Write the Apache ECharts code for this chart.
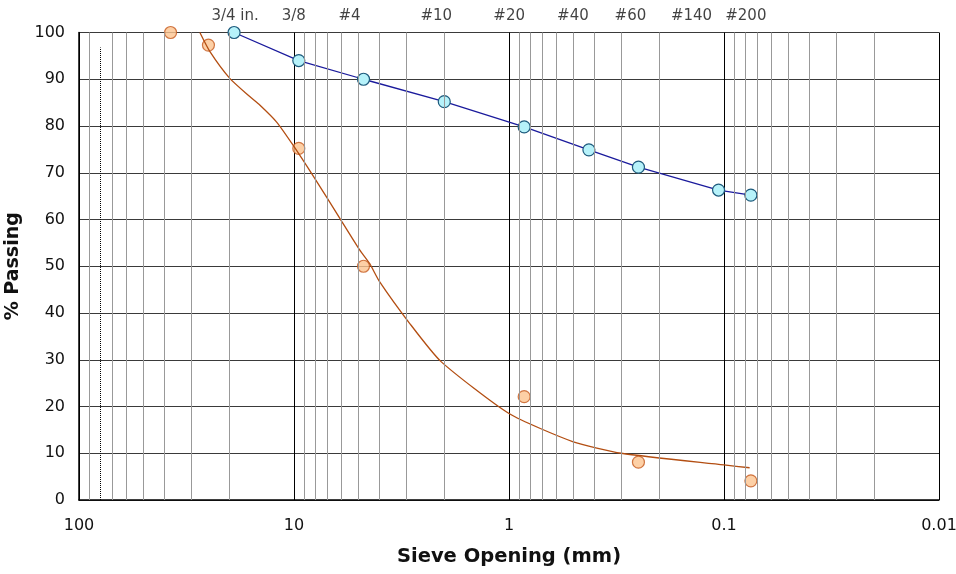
<!DOCTYPE html>
<html>
<head>
<meta charset="utf-8">
<script src="https://cdn.jsdelivr.net/npm/echarts@6/dist/echarts.min.js"></script>
<style>html,body{margin:0;padding:0;background:#fff}#c{width:956px;height:574px}</style>
</head>
<body>
<div id="c"></div>
<script>
// Sieve labels along the top
const sieveLabels = ['3/4 in.', '3/8', '#4', '#10', '#20', '#40', '#60', '#140', '#200'];
const sieveSizes = [19, 9.5, 4.75, 2.0, 0.85, 0.425, 0.25, 0.106, 0.075];

// Sample A (blue)
const blueSizes = [19, 9.5, 4.75, 2.0, 0.85, 0.425, 0.25, 0.106, 0.075];
const bluePassing = [100, 94, 90, 85.2, 79.8, 74.9, 71.2, 66.3, 65.2];

// Sample B (orange points)
const orangeSizes = [37.5, 25, 9.5, 4.75, 0.85, 0.25, 0.075];
const orangePassing = [100, 97.3, 75.2, 50, 22.1, 8.1, 4.1];

// Sample B fitted curve (orange line)
const curveSizes = [27.4, 24.6, 19.9, 16.06, 14.43, 12.07, 10.1, 8.01, 6.13, 4.95, 4.45, 4.0, 2.9, 2.07, 1.0, 0.506, 0.30, 0.10, 0.076];
const curvePassing = [100, 95.9, 90.2, 86.3, 84.5, 80.9, 75.9, 68.8, 60.3, 53.5, 50.6, 46.7, 37.8, 29.6, 18.5, 12.5, 10.0, 7.5, 6.9];

// Y ticks
const yTicks = [0, 10, 20, 30, 40, 50, 60, 70, 80, 90, 100];

// minor log grid lines (2..9 within each decade), 80 mm drawn dotted instead
const decades = [0.01, 0.1, 1, 10];
const minorMult = [2, 3, 4, 5, 6, 7, 8, 9];
const minorLines = [];
decades.forEach(d => minorMult.forEach(m => {
  const v = +(d * m).toPrecision(3);
  if (v !== 80) minorLines.push({ xAxis: v });
}));
const dottedAt = 80;

// per-label horizontal nudges (px) for the top sieve labels
const labelNudge = [1, -5, -14, -8, -15, -16, -8, -27, -5];

const zip = (a, b) => a.map((v, i) => [v, b[i]]);
const font = 'DejaVu Sans';

const chart = echarts.init(document.getElementById('c'), null, { renderer: 'canvas' });
chart.setOption({
  animation: false,
  backgroundColor: '#fff',
  grid: { left: 79, right: 17, top: 32.5, bottom: 74, containLabel: false, outerBoundsMode: 'none' },
  xAxis: {
    type: 'log', logBase: 10, min: 0.01, max: 100, inverse: true,
    name: 'Sieve Opening (mm)', nameLocation: 'middle', nameGap: 47,
    nameTextStyle: { fontFamily: font, fontSize: 19.5, fontWeight: 'bold', color: '#111' },
    axisLine: { show: true, lineStyle: { color: '#000', width: 1.5 } },
    axisTick: { show: false },
    axisLabel: { fontFamily: font, fontSize: 16, color: '#111', margin: 18,
      formatter: v => String(+v.toPrecision(3)) },
    splitLine: { show: true, lineStyle: { color: '#000', width: 1 } },
    minorTick: { show: false }, minorSplitLine: { show: false }
  },
  yAxis: {
    type: 'value', min: 0, max: 100, interval: 10,
    name: '% Passing', nameLocation: 'middle', nameGap: 56, nameRotate: 90,
    nameTextStyle: { fontFamily: font, fontSize: 19, fontWeight: 'bold', color: '#111' },
    axisLine: { show: true, lineStyle: { color: '#000', width: 1.5 } },
    axisTick: { show: false },
    axisLabel: { fontFamily: font, fontSize: 16, color: '#111', margin: 14,
      formatter: v => yTicks.includes(v) ? String(v) : '' },
    splitLine: { show: true, lineStyle: { color: '#3a3a3a', width: 1 } }
  },
  series: [
    {
      type: 'line', name: 'grid', data: [], silent: true,
      markLine: {
        silent: true, symbol: ['none', 'none'], label: { show: false },
        lineStyle: { color: '#999', width: 1, type: 'solid' },
        data: minorLines.concat([
          [{ coord: [dottedAt, 0], lineStyle: { color: '#000', type: 'dotted', width: 1 } },
           { coord: [dottedAt, 96.8] }]
        ])
      }
    },
    {
      type: 'scatter', name: 'sieves', silent: true, clip: false,
      data: sieveSizes.map((s, i) => ({
        value: [s, 100],
        label: { offset: [labelNudge[i], 0] }
      })),
      symbolSize: 0,
      label: {
        show: true, position: 'top', distance: 9,
        fontFamily: font, fontSize: 15, color: '#111',
        formatter: p => sieveLabels[p.dataIndex]
      },
      z: 1
    },
    {
      type: 'line', name: 'A', data: zip(blueSizes, bluePassing),
      clip: false,
      lineStyle: { color: '#1a1a9c', width: 1.3 },
      symbol: 'circle', symbolSize: 12,
      itemStyle: { color: '#b6f2fa', borderColor: '#1d5a7c', borderWidth: 1.2 },
      z: 3
    },
    {
      type: 'scatter', name: 'B', data: zip(orangeSizes, orangePassing),
      clip: false,
      symbol: 'circle', symbolSize: 12,
      itemStyle: { color: '#fcc490', borderColor: '#c4581c', borderWidth: 1.2 },
      z: 3
    },
    {
      type: 'line', name: 'B fit', data: zip(curveSizes, curvePassing),
      smooth: 0.2, showSymbol: false, symbol: 'none',
      lineStyle: { color: '#b34e12', width: 1.3 },
      z: 4
    }
  ]
});
</script>
</body>
</html>
